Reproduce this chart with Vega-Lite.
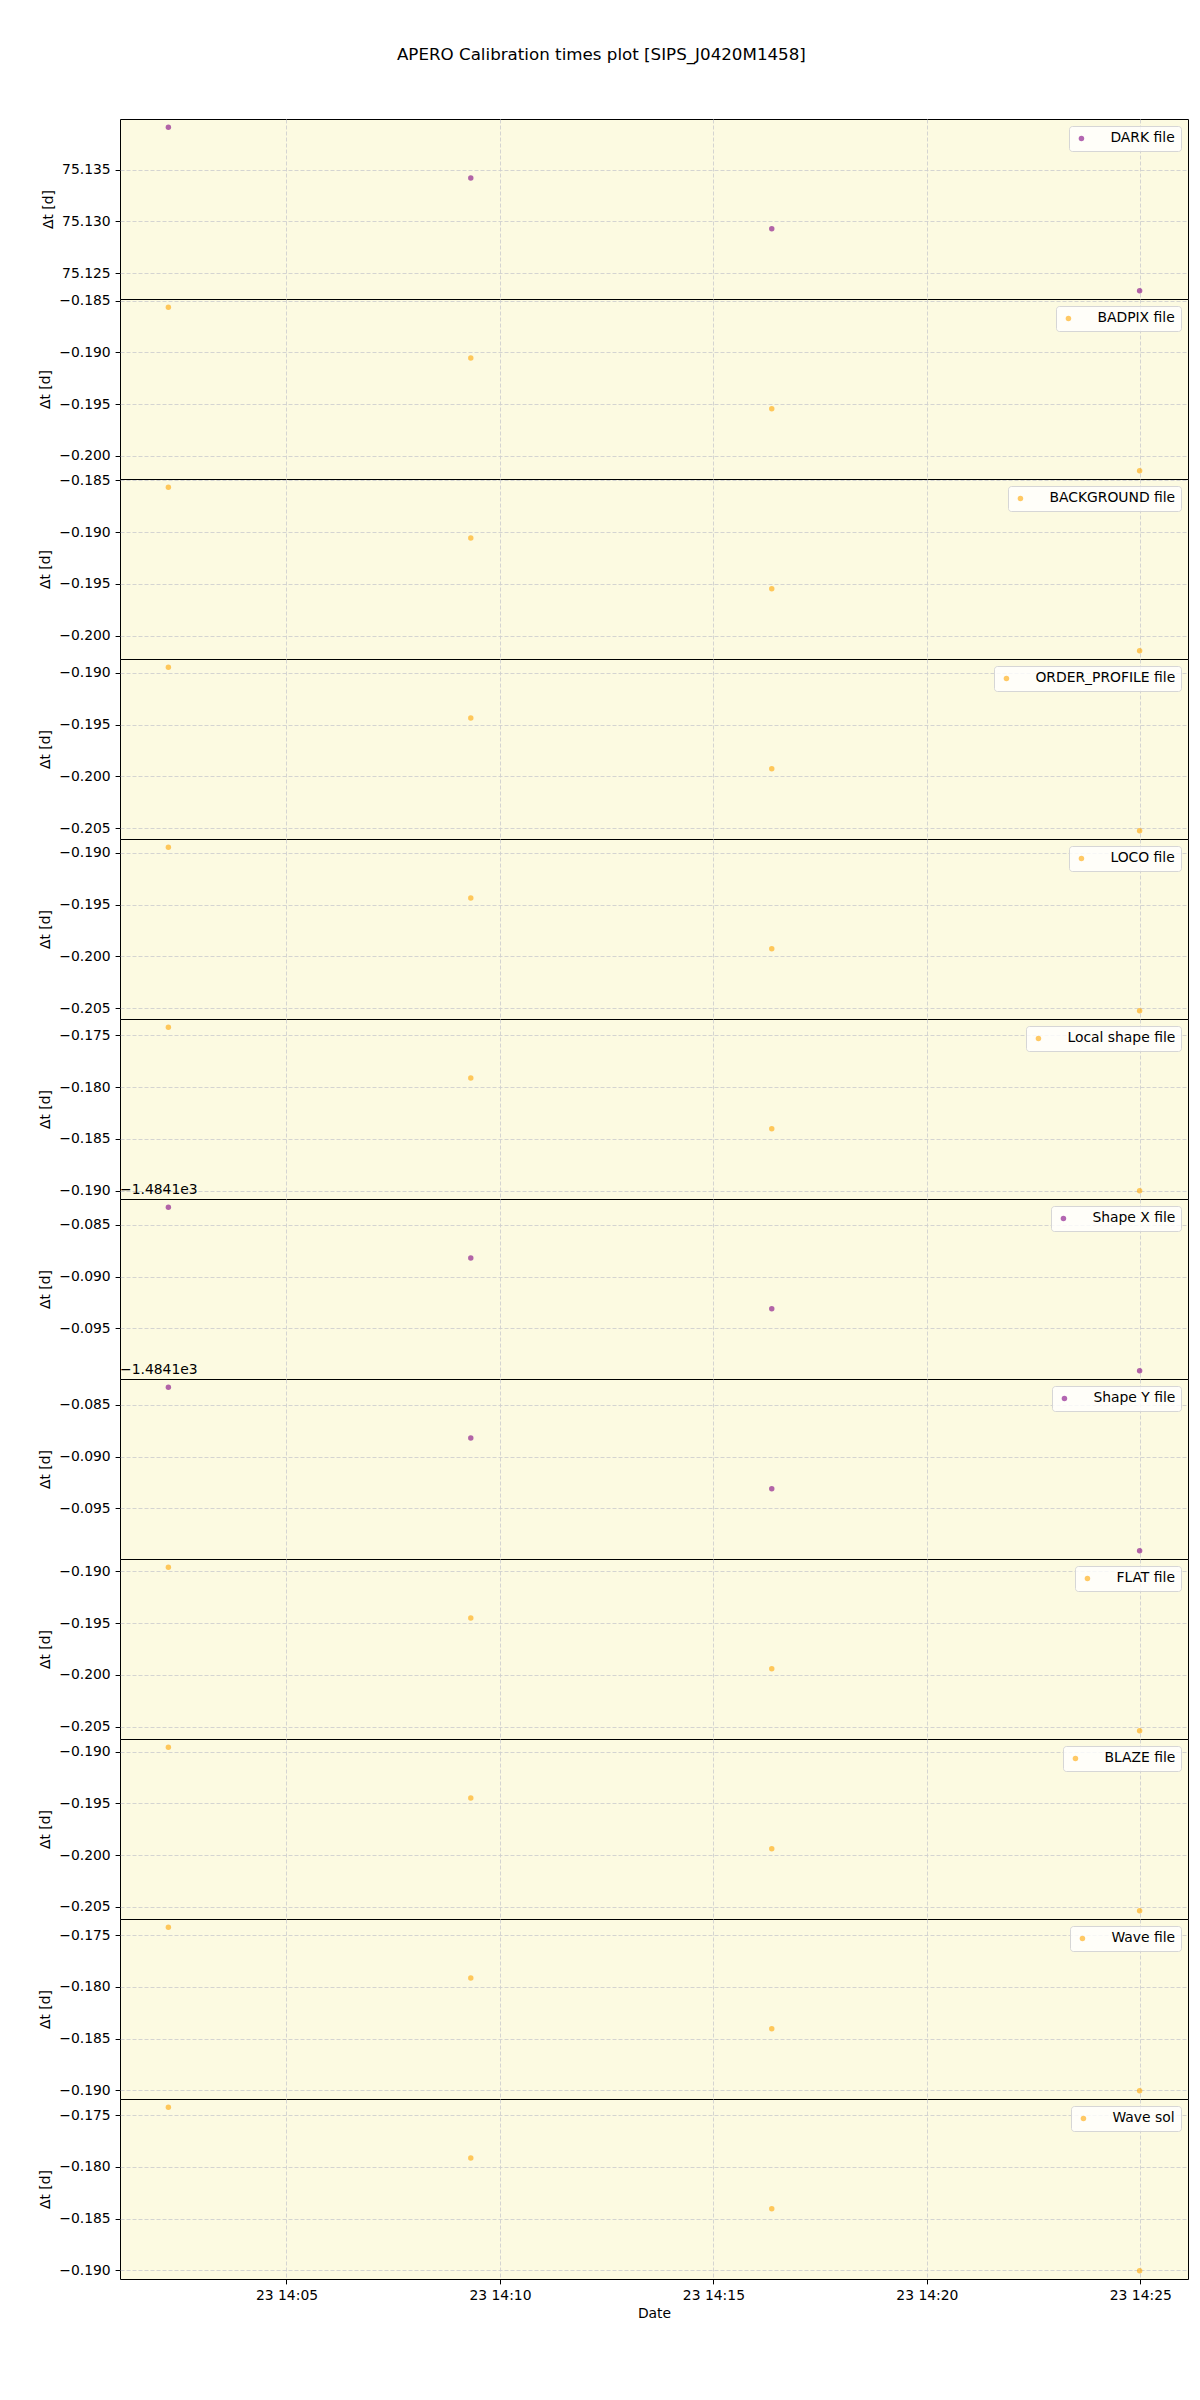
{
  "$schema": "https://vega.github.io/schema/vega-lite/v6.json",
  "padding": {"left": 38, "top": 46, "right": 5, "bottom": 5},
  "title": {"text": "APERO Calibration times plot [SIPS_J0420M1458]", "fontSize": 16.7, "fontWeight": "normal", "color": "black", "anchor": "middle", "offset": 55, "dx": -12},
  "datasets": {
    "calib": [
      {"panel": "DARK file", "time": "2023-01-23T14:02:14", "dt": 75.1391},
      {"panel": "DARK file", "time": "2023-01-23T14:09:19", "dt": 75.1342},
      {"panel": "DARK file", "time": "2023-01-23T14:16:22", "dt": 75.1293},
      {"panel": "DARK file", "time": "2023-01-23T14:24:59", "dt": 75.1233},
      {"panel": "BADPIX file", "time": "2023-01-23T14:02:14", "dt": -0.18564},
      {"panel": "BADPIX file", "time": "2023-01-23T14:09:19", "dt": -0.19056},
      {"panel": "BADPIX file", "time": "2023-01-23T14:16:22", "dt": -0.19546},
      {"panel": "BADPIX file", "time": "2023-01-23T14:24:59", "dt": -0.20145},
      {"panel": "BACKGROUND file", "time": "2023-01-23T14:02:14", "dt": -0.18565},
      {"panel": "BACKGROUND file", "time": "2023-01-23T14:09:19", "dt": -0.19057},
      {"panel": "BACKGROUND file", "time": "2023-01-23T14:16:22", "dt": -0.19547},
      {"panel": "BACKGROUND file", "time": "2023-01-23T14:24:59", "dt": -0.20146},
      {"panel": "ORDER_PROFILE file", "time": "2023-01-23T14:02:14", "dt": -0.18946},
      {"panel": "ORDER_PROFILE file", "time": "2023-01-23T14:09:19", "dt": -0.19438},
      {"panel": "ORDER_PROFILE file", "time": "2023-01-23T14:16:22", "dt": -0.19928},
      {"panel": "ORDER_PROFILE file", "time": "2023-01-23T14:24:59", "dt": -0.20527},
      {"panel": "LOCO file", "time": "2023-01-23T14:02:14", "dt": -0.18946},
      {"panel": "LOCO file", "time": "2023-01-23T14:09:19", "dt": -0.19438},
      {"panel": "LOCO file", "time": "2023-01-23T14:16:22", "dt": -0.19928},
      {"panel": "LOCO file", "time": "2023-01-23T14:24:59", "dt": -0.20527},
      {"panel": "Local shape file", "time": "2023-01-23T14:02:14", "dt": -0.17422},
      {"panel": "Local shape file", "time": "2023-01-23T14:09:19", "dt": -0.17914},
      {"panel": "Local shape file", "time": "2023-01-23T14:16:22", "dt": -0.18404},
      {"panel": "Local shape file", "time": "2023-01-23T14:24:59", "dt": -0.19003},
      {"panel": "Shape X file", "time": "2023-01-23T14:02:14", "dt": -1484.18329},
      {"panel": "Shape X file", "time": "2023-01-23T14:09:19", "dt": -1484.18821},
      {"panel": "Shape X file", "time": "2023-01-23T14:16:22", "dt": -1484.19311},
      {"panel": "Shape X file", "time": "2023-01-23T14:24:59", "dt": -1484.1991},
      {"panel": "Shape Y file", "time": "2023-01-23T14:02:14", "dt": -1484.18329},
      {"panel": "Shape Y file", "time": "2023-01-23T14:09:19", "dt": -1484.18821},
      {"panel": "Shape Y file", "time": "2023-01-23T14:16:22", "dt": -1484.19311},
      {"panel": "Shape Y file", "time": "2023-01-23T14:24:59", "dt": -1484.1991},
      {"panel": "FLAT file", "time": "2023-01-23T14:02:14", "dt": -0.18959},
      {"panel": "FLAT file", "time": "2023-01-23T14:09:19", "dt": -0.19451},
      {"panel": "FLAT file", "time": "2023-01-23T14:16:22", "dt": -0.19941},
      {"panel": "FLAT file", "time": "2023-01-23T14:24:59", "dt": -0.2054},
      {"panel": "BLAZE file", "time": "2023-01-23T14:02:14", "dt": -0.18956},
      {"panel": "BLAZE file", "time": "2023-01-23T14:09:19", "dt": -0.19448},
      {"panel": "BLAZE file", "time": "2023-01-23T14:16:22", "dt": -0.19938},
      {"panel": "BLAZE file", "time": "2023-01-23T14:24:59", "dt": -0.20537},
      {"panel": "Wave file", "time": "2023-01-23T14:02:14", "dt": -0.17423},
      {"panel": "Wave file", "time": "2023-01-23T14:09:19", "dt": -0.17915},
      {"panel": "Wave file", "time": "2023-01-23T14:16:22", "dt": -0.18405},
      {"panel": "Wave file", "time": "2023-01-23T14:24:59", "dt": -0.19004},
      {"panel": "Wave sol", "time": "2023-01-23T14:02:14", "dt": -0.17423},
      {"panel": "Wave sol", "time": "2023-01-23T14:09:19", "dt": -0.17915},
      {"panel": "Wave sol", "time": "2023-01-23T14:16:22", "dt": -0.18405},
      {"panel": "Wave sol", "time": "2023-01-23T14:24:59", "dt": -0.19004}
    ]
  },
  "spacing": 0,
  "bounds": "flush",
  "resolve": {
    "scale": {"x": "independent", "y": "independent", "color": "independent"},
    "axis": {"x": "independent", "y": "independent"},
    "legend": {"color": "independent"}
  },
  "vconcat": [
    {
      "width": 1068, "height": 180,
      "data": {"name": "calib"},
      "transform": [{"filter": "datum.panel === 'DARK file'"}],
      "mark": {"type": "point", "filled": true, "size": 30, "opacity": 0.6},
      "encoding": {
        "x": {"field": "time", "type": "temporal", "scale": {"domain": [{"year": 2023, "month": 1, "date": 23, "hours": 14, "minutes": 1, "seconds": 6}, {"year": 2023, "month": 1, "date": 23, "hours": 14, "minutes": 26, "seconds": 7}], "nice": false}, "axis": {"title": null, "labels": false, "ticks": false, "values": [{"year": 2023, "month": 1, "date": 23, "hours": 14, "minutes": 5}, {"year": 2023, "month": 1, "date": 23, "hours": 14, "minutes": 10}, {"year": 2023, "month": 1, "date": 23, "hours": 14, "minutes": 15}, {"year": 2023, "month": 1, "date": 23, "hours": 14, "minutes": 20}, {"year": 2023, "month": 1, "date": 23, "hours": 14, "minutes": 25}]}},
        "y": {"field": "dt", "type": "quantitative", "scale": {"zero": false, "nice": false, "domain": [75.12251, 75.13989]}, "axis": {"title": "Δt [d]", "format": ".3f", "values": [75.125, 75.13, 75.135]}},
        "color": {"field": "panel", "type": "nominal", "scale": {"range": ["#800080"]}, "legend": {"title": null}}
      }
    },
    {
      "width": 1068, "height": 180,
      "data": {"name": "calib"},
      "transform": [{"filter": "datum.panel === 'BADPIX file'"}],
      "mark": {"type": "point", "filled": true, "size": 30, "opacity": 0.6},
      "encoding": {
        "x": {"field": "time", "type": "temporal", "scale": {"domain": [{"year": 2023, "month": 1, "date": 23, "hours": 14, "minutes": 1, "seconds": 6}, {"year": 2023, "month": 1, "date": 23, "hours": 14, "minutes": 26, "seconds": 7}], "nice": false}, "axis": {"title": null, "labels": false, "ticks": false, "values": [{"year": 2023, "month": 1, "date": 23, "hours": 14, "minutes": 5}, {"year": 2023, "month": 1, "date": 23, "hours": 14, "minutes": 10}, {"year": 2023, "month": 1, "date": 23, "hours": 14, "minutes": 15}, {"year": 2023, "month": 1, "date": 23, "hours": 14, "minutes": 20}, {"year": 2023, "month": 1, "date": 23, "hours": 14, "minutes": 25}]}},
        "y": {"field": "dt", "type": "quantitative", "scale": {"zero": false, "nice": false, "domain": [-0.20224, -0.18485]}, "axis": {"title": "Δt [d]", "format": ".3f", "values": [-0.2, -0.195, -0.19, -0.185]}},
        "color": {"field": "panel", "type": "nominal", "scale": {"range": ["#ffa500"]}, "legend": {"title": null}}
      }
    },
    {
      "width": 1068, "height": 180,
      "data": {"name": "calib"},
      "transform": [{"filter": "datum.panel === 'BACKGROUND file'"}],
      "mark": {"type": "point", "filled": true, "size": 30, "opacity": 0.6},
      "encoding": {
        "x": {"field": "time", "type": "temporal", "scale": {"domain": [{"year": 2023, "month": 1, "date": 23, "hours": 14, "minutes": 1, "seconds": 6}, {"year": 2023, "month": 1, "date": 23, "hours": 14, "minutes": 26, "seconds": 7}], "nice": false}, "axis": {"title": null, "labels": false, "ticks": false, "values": [{"year": 2023, "month": 1, "date": 23, "hours": 14, "minutes": 5}, {"year": 2023, "month": 1, "date": 23, "hours": 14, "minutes": 10}, {"year": 2023, "month": 1, "date": 23, "hours": 14, "minutes": 15}, {"year": 2023, "month": 1, "date": 23, "hours": 14, "minutes": 20}, {"year": 2023, "month": 1, "date": 23, "hours": 14, "minutes": 25}]}},
        "y": {"field": "dt", "type": "quantitative", "scale": {"zero": false, "nice": false, "domain": [-0.20225, -0.18486]}, "axis": {"title": "Δt [d]", "format": ".3f", "values": [-0.2, -0.195, -0.19, -0.185]}},
        "color": {"field": "panel", "type": "nominal", "scale": {"range": ["#ffa500"]}, "legend": {"title": null}}
      }
    },
    {
      "width": 1068, "height": 180,
      "data": {"name": "calib"},
      "transform": [{"filter": "datum.panel === 'ORDER_PROFILE file'"}],
      "mark": {"type": "point", "filled": true, "size": 30, "opacity": 0.6},
      "encoding": {
        "x": {"field": "time", "type": "temporal", "scale": {"domain": [{"year": 2023, "month": 1, "date": 23, "hours": 14, "minutes": 1, "seconds": 6}, {"year": 2023, "month": 1, "date": 23, "hours": 14, "minutes": 26, "seconds": 7}], "nice": false}, "axis": {"title": null, "labels": false, "ticks": false, "values": [{"year": 2023, "month": 1, "date": 23, "hours": 14, "minutes": 5}, {"year": 2023, "month": 1, "date": 23, "hours": 14, "minutes": 10}, {"year": 2023, "month": 1, "date": 23, "hours": 14, "minutes": 15}, {"year": 2023, "month": 1, "date": 23, "hours": 14, "minutes": 20}, {"year": 2023, "month": 1, "date": 23, "hours": 14, "minutes": 25}]}},
        "y": {"field": "dt", "type": "quantitative", "scale": {"zero": false, "nice": false, "domain": [-0.20606, -0.18867]}, "axis": {"title": "Δt [d]", "format": ".3f", "values": [-0.205, -0.2, -0.195, -0.19]}},
        "color": {"field": "panel", "type": "nominal", "scale": {"range": ["#ffa500"]}, "legend": {"title": null}}
      }
    },
    {
      "width": 1068, "height": 180,
      "data": {"name": "calib"},
      "transform": [{"filter": "datum.panel === 'LOCO file'"}],
      "mark": {"type": "point", "filled": true, "size": 30, "opacity": 0.6},
      "encoding": {
        "x": {"field": "time", "type": "temporal", "scale": {"domain": [{"year": 2023, "month": 1, "date": 23, "hours": 14, "minutes": 1, "seconds": 6}, {"year": 2023, "month": 1, "date": 23, "hours": 14, "minutes": 26, "seconds": 7}], "nice": false}, "axis": {"title": null, "labels": false, "ticks": false, "values": [{"year": 2023, "month": 1, "date": 23, "hours": 14, "minutes": 5}, {"year": 2023, "month": 1, "date": 23, "hours": 14, "minutes": 10}, {"year": 2023, "month": 1, "date": 23, "hours": 14, "minutes": 15}, {"year": 2023, "month": 1, "date": 23, "hours": 14, "minutes": 20}, {"year": 2023, "month": 1, "date": 23, "hours": 14, "minutes": 25}]}},
        "y": {"field": "dt", "type": "quantitative", "scale": {"zero": false, "nice": false, "domain": [-0.20606, -0.18867]}, "axis": {"title": "Δt [d]", "format": ".3f", "values": [-0.205, -0.2, -0.195, -0.19]}},
        "color": {"field": "panel", "type": "nominal", "scale": {"range": ["#ffa500"]}, "legend": {"title": null}}
      }
    },
    {
      "width": 1068, "height": 180,
      "data": {"name": "calib"},
      "transform": [{"filter": "datum.panel === 'Local shape file'"}],
      "mark": {"type": "point", "filled": true, "size": 30, "opacity": 0.6},
      "encoding": {
        "x": {"field": "time", "type": "temporal", "scale": {"domain": [{"year": 2023, "month": 1, "date": 23, "hours": 14, "minutes": 1, "seconds": 6}, {"year": 2023, "month": 1, "date": 23, "hours": 14, "minutes": 26, "seconds": 7}], "nice": false}, "axis": {"title": null, "labels": false, "ticks": false, "values": [{"year": 2023, "month": 1, "date": 23, "hours": 14, "minutes": 5}, {"year": 2023, "month": 1, "date": 23, "hours": 14, "minutes": 10}, {"year": 2023, "month": 1, "date": 23, "hours": 14, "minutes": 15}, {"year": 2023, "month": 1, "date": 23, "hours": 14, "minutes": 20}, {"year": 2023, "month": 1, "date": 23, "hours": 14, "minutes": 25}]}},
        "y": {"field": "dt", "type": "quantitative", "scale": {"zero": false, "nice": false, "domain": [-0.19082, -0.17343]}, "axis": {"title": "Δt [d]", "format": ".3f", "values": [-0.19, -0.185, -0.18, -0.175]}},
        "color": {"field": "panel", "type": "nominal", "scale": {"range": ["#ffa500"]}, "legend": {"title": null}}
      }
    },
    {
      "width": 1068, "height": 180,
      "title": {"text": "−1.4841e3", "anchor": "start", "frame": "group", "fontSize": 13.9, "fontWeight": "normal", "offset": 2},
      "data": {"name": "calib"},
      "transform": [{"filter": "datum.panel === 'Shape X file'"}],
      "mark": {"type": "point", "filled": true, "size": 30, "opacity": 0.6},
      "encoding": {
        "x": {"field": "time", "type": "temporal", "scale": {"domain": [{"year": 2023, "month": 1, "date": 23, "hours": 14, "minutes": 1, "seconds": 6}, {"year": 2023, "month": 1, "date": 23, "hours": 14, "minutes": 26, "seconds": 7}], "nice": false}, "axis": {"title": null, "labels": false, "ticks": false, "values": [{"year": 2023, "month": 1, "date": 23, "hours": 14, "minutes": 5}, {"year": 2023, "month": 1, "date": 23, "hours": 14, "minutes": 10}, {"year": 2023, "month": 1, "date": 23, "hours": 14, "minutes": 15}, {"year": 2023, "month": 1, "date": 23, "hours": 14, "minutes": 20}, {"year": 2023, "month": 1, "date": 23, "hours": 14, "minutes": 25}]}},
        "y": {"field": "dt", "type": "quantitative", "scale": {"zero": false, "nice": false, "domain": [-1484.19989, -1484.1825]}, "axis": {"title": "Δt [d]", "values": [-1484.195, -1484.19, -1484.185], "labelExpr": "format(datum.value + 1484.1, '.3f')"}},
        "color": {"field": "panel", "type": "nominal", "scale": {"range": ["#800080"]}, "legend": {"title": null}}
      }
    },
    {
      "width": 1068, "height": 180,
      "title": {"text": "−1.4841e3", "anchor": "start", "frame": "group", "fontSize": 13.9, "fontWeight": "normal", "offset": 2},
      "data": {"name": "calib"},
      "transform": [{"filter": "datum.panel === 'Shape Y file'"}],
      "mark": {"type": "point", "filled": true, "size": 30, "opacity": 0.6},
      "encoding": {
        "x": {"field": "time", "type": "temporal", "scale": {"domain": [{"year": 2023, "month": 1, "date": 23, "hours": 14, "minutes": 1, "seconds": 6}, {"year": 2023, "month": 1, "date": 23, "hours": 14, "minutes": 26, "seconds": 7}], "nice": false}, "axis": {"title": null, "labels": false, "ticks": false, "values": [{"year": 2023, "month": 1, "date": 23, "hours": 14, "minutes": 5}, {"year": 2023, "month": 1, "date": 23, "hours": 14, "minutes": 10}, {"year": 2023, "month": 1, "date": 23, "hours": 14, "minutes": 15}, {"year": 2023, "month": 1, "date": 23, "hours": 14, "minutes": 20}, {"year": 2023, "month": 1, "date": 23, "hours": 14, "minutes": 25}]}},
        "y": {"field": "dt", "type": "quantitative", "scale": {"zero": false, "nice": false, "domain": [-1484.19989, -1484.1825]}, "axis": {"title": "Δt [d]", "values": [-1484.195, -1484.19, -1484.185], "labelExpr": "format(datum.value + 1484.1, '.3f')"}},
        "color": {"field": "panel", "type": "nominal", "scale": {"range": ["#800080"]}, "legend": {"title": null}}
      }
    },
    {
      "width": 1068, "height": 180,
      "data": {"name": "calib"},
      "transform": [{"filter": "datum.panel === 'FLAT file'"}],
      "mark": {"type": "point", "filled": true, "size": 30, "opacity": 0.6},
      "encoding": {
        "x": {"field": "time", "type": "temporal", "scale": {"domain": [{"year": 2023, "month": 1, "date": 23, "hours": 14, "minutes": 1, "seconds": 6}, {"year": 2023, "month": 1, "date": 23, "hours": 14, "minutes": 26, "seconds": 7}], "nice": false}, "axis": {"title": null, "labels": false, "ticks": false, "values": [{"year": 2023, "month": 1, "date": 23, "hours": 14, "minutes": 5}, {"year": 2023, "month": 1, "date": 23, "hours": 14, "minutes": 10}, {"year": 2023, "month": 1, "date": 23, "hours": 14, "minutes": 15}, {"year": 2023, "month": 1, "date": 23, "hours": 14, "minutes": 20}, {"year": 2023, "month": 1, "date": 23, "hours": 14, "minutes": 25}]}},
        "y": {"field": "dt", "type": "quantitative", "scale": {"zero": false, "nice": false, "domain": [-0.20619, -0.1888]}, "axis": {"title": "Δt [d]", "format": ".3f", "values": [-0.205, -0.2, -0.195, -0.19]}},
        "color": {"field": "panel", "type": "nominal", "scale": {"range": ["#ffa500"]}, "legend": {"title": null}}
      }
    },
    {
      "width": 1068, "height": 180,
      "data": {"name": "calib"},
      "transform": [{"filter": "datum.panel === 'BLAZE file'"}],
      "mark": {"type": "point", "filled": true, "size": 30, "opacity": 0.6},
      "encoding": {
        "x": {"field": "time", "type": "temporal", "scale": {"domain": [{"year": 2023, "month": 1, "date": 23, "hours": 14, "minutes": 1, "seconds": 6}, {"year": 2023, "month": 1, "date": 23, "hours": 14, "minutes": 26, "seconds": 7}], "nice": false}, "axis": {"title": null, "labels": false, "ticks": false, "values": [{"year": 2023, "month": 1, "date": 23, "hours": 14, "minutes": 5}, {"year": 2023, "month": 1, "date": 23, "hours": 14, "minutes": 10}, {"year": 2023, "month": 1, "date": 23, "hours": 14, "minutes": 15}, {"year": 2023, "month": 1, "date": 23, "hours": 14, "minutes": 20}, {"year": 2023, "month": 1, "date": 23, "hours": 14, "minutes": 25}]}},
        "y": {"field": "dt", "type": "quantitative", "scale": {"zero": false, "nice": false, "domain": [-0.20616, -0.18877]}, "axis": {"title": "Δt [d]", "format": ".3f", "values": [-0.205, -0.2, -0.195, -0.19]}},
        "color": {"field": "panel", "type": "nominal", "scale": {"range": ["#ffa500"]}, "legend": {"title": null}}
      }
    },
    {
      "width": 1068, "height": 180,
      "data": {"name": "calib"},
      "transform": [{"filter": "datum.panel === 'Wave file'"}],
      "mark": {"type": "point", "filled": true, "size": 30, "opacity": 0.6},
      "encoding": {
        "x": {"field": "time", "type": "temporal", "scale": {"domain": [{"year": 2023, "month": 1, "date": 23, "hours": 14, "minutes": 1, "seconds": 6}, {"year": 2023, "month": 1, "date": 23, "hours": 14, "minutes": 26, "seconds": 7}], "nice": false}, "axis": {"title": null, "labels": false, "ticks": false, "values": [{"year": 2023, "month": 1, "date": 23, "hours": 14, "minutes": 5}, {"year": 2023, "month": 1, "date": 23, "hours": 14, "minutes": 10}, {"year": 2023, "month": 1, "date": 23, "hours": 14, "minutes": 15}, {"year": 2023, "month": 1, "date": 23, "hours": 14, "minutes": 20}, {"year": 2023, "month": 1, "date": 23, "hours": 14, "minutes": 25}]}},
        "y": {"field": "dt", "type": "quantitative", "scale": {"zero": false, "nice": false, "domain": [-0.19083, -0.17344]}, "axis": {"title": "Δt [d]", "format": ".3f", "values": [-0.19, -0.185, -0.18, -0.175]}},
        "color": {"field": "panel", "type": "nominal", "scale": {"range": ["#ffa500"]}, "legend": {"title": null}}
      }
    },
    {
      "width": 1068, "height": 180,
      "data": {"name": "calib"},
      "transform": [{"filter": "datum.panel === 'Wave sol'"}],
      "mark": {"type": "point", "filled": true, "size": 30, "opacity": 0.6},
      "encoding": {
        "x": {"field": "time", "type": "temporal", "scale": {"domain": [{"year": 2023, "month": 1, "date": 23, "hours": 14, "minutes": 1, "seconds": 6}, {"year": 2023, "month": 1, "date": 23, "hours": 14, "minutes": 26, "seconds": 7}], "nice": false}, "axis": {"title": "Date", "format": "%d %H:%M", "titlePadding": 4, "values": [{"year": 2023, "month": 1, "date": 23, "hours": 14, "minutes": 5}, {"year": 2023, "month": 1, "date": 23, "hours": 14, "minutes": 10}, {"year": 2023, "month": 1, "date": 23, "hours": 14, "minutes": 15}, {"year": 2023, "month": 1, "date": 23, "hours": 14, "minutes": 20}, {"year": 2023, "month": 1, "date": 23, "hours": 14, "minutes": 25}]}},
        "y": {"field": "dt", "type": "quantitative", "scale": {"zero": false, "nice": false, "domain": [-0.19083, -0.17344]}, "axis": {"title": "Δt [d]", "format": ".3f", "values": [-0.19, -0.185, -0.18, -0.175]}},
        "color": {"field": "panel", "type": "nominal", "scale": {"range": ["#ffa500"]}, "legend": {"title": null}}
      }
    }
  ],
  "config": {
    "font": "DejaVu Sans",
    "view": {"stroke": "black", "strokeWidth": 1, "fill": "#fcfae1"},
    "axis": {
      "labelFontSize": 13.9, "titleFontSize": 13.9, "titleFontWeight": "normal",
      "labelColor": "black", "titleColor": "black", "tickColor": "black",
      "tickSize": 4.9, "labelPadding": 4.9, "domain": false, "labelFlush": false,
      "grid": true, "gridColor": "#cfcfcf", "gridDash": [4, 2], "gridWidth": 0.9
    },
    "axisY": {"titlePadding": 6},
    "legend": {
      "orient": "top-right", "offset": 7, "padding": 5.5,
      "fillColor": "rgba(255,255,255,0.8)", "strokeColor": "#d6d6d6", "cornerRadius": 3,
      "labelFontSize": 13.9, "labelColor": "black",
      "symbolType": "circle", "symbolSize": 30, "symbolOpacity": 0.6, "symbolStrokeWidth": 0,
      "labelOffset": 22
    }
  }
}
